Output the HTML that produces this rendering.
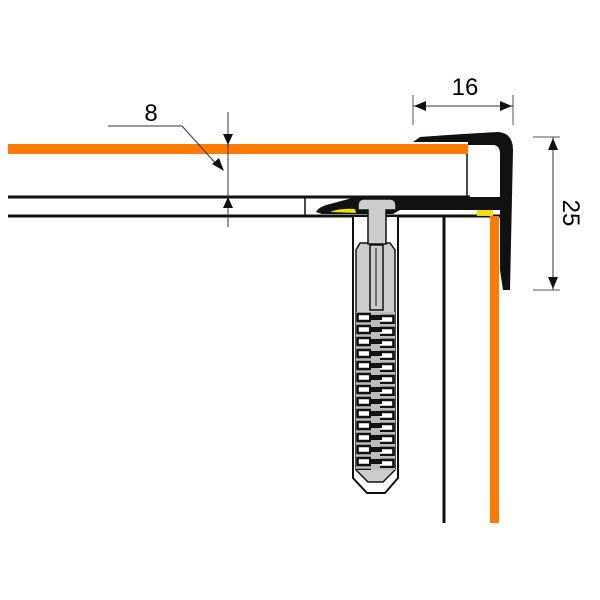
<!DOCTYPE html>
<html><head><meta charset="utf-8"><style>
html,body{margin:0;padding:0;background:#fff;}
svg{display:block;}
text{font-family:"Liberation Sans",Arial,sans-serif;}
</style></head><body>
<svg width="600" height="600" viewBox="0 0 600 600" xmlns="http://www.w3.org/2000/svg">
<defs>
<pattern id="rib" x="356" y="312" width="39" height="12" patternUnits="userSpaceOnUse">
<rect x="0" y="0" width="39" height="12" fill="#bbb"/>
<path d="M15 2 H1.5 V9 H15" fill="#fff" stroke="#111" stroke-width="2.6"/>
<path d="M24 4 H37.5 V11 H24" fill="#fff" stroke="#111" stroke-width="2.6"/>
<rect x="13" y="3" width="13" height="5" fill="#111"/>
<rect x="4" y="4.5" width="8" height="2" fill="#fff"/>
<rect x="27" y="6.5" width="8" height="2" fill="#fff"/>
</pattern>
</defs>

<!-- left sublayer -->
<rect x="8" y="196" width="300" height="20" fill="#fff"/>
<line x1="8" y1="197" x2="470" y2="197" stroke="#111" stroke-width="3"/>
<line x1="8" y1="216" x2="500" y2="216" stroke="#111" stroke-width="3"/>
<line x1="305" y1="197" x2="305" y2="216" stroke="#111" stroke-width="1.5"/>

<!-- board right edge -->
<line x1="467" y1="146" x2="467" y2="197" stroke="#111" stroke-width="1.5"/>
<rect x="8" y="144" width="460" height="10" fill="#ff7a00"/>

<!-- profile top and side -->
<path d="M413 142 L420 137 Q460 134 498 132 Q513 133 513 150 L510 290 L503 290 L500 270 L500 154 Q500 146 494 145 L468 145 L468 142 Z" fill="#111"/>
<!-- horizontal bar -->
<path d="M316 212 Q318 207 330 204 L356 197 L503 197 L503 210 L400 210 L393 214 L322 214 Z" fill="#111"/>
<path d="M330 212 Q340 208 355 209 L356 213 Z" fill="#f0e000"/>
<rect x="477" y="210" width="16" height="6" fill="#f0e000"/>

<!-- verticals -->
<rect x="490" y="216" width="9" height="307" fill="#ff7a00"/>
<line x1="444" y1="216" x2="444" y2="523" stroke="#111" stroke-width="3"/>

<!-- dowel -->
<path d="M353 217 L353 478 L367 493 L385 493 L398 478 L398 217" fill="#fff" stroke="#111" stroke-width="2"/>
<path d="M360 243 L390 243 L395 250 L395 470 L383 482 L368 482 L356 470 L356 250 Z" fill="#ccc" stroke="#111" stroke-width="1.5"/>
<rect x="356" y="312" width="39" height="158" fill="url(#rib)"/>
<rect x="370" y="245" width="13" height="65" fill="#ccc" stroke="#111" stroke-width="1.5"/>
<line x1="376" y1="248" x2="376" y2="306" stroke="#111" stroke-width="1"/>
<!-- T head -->
<path d="M363 199 L391 199 Q396 200 396 205 L396 210 L386 210 L386 244 L368 244 L368 210 L358 210 L358 205 Q358 200 363 199 Z" fill="#ccc" stroke="#111" stroke-width="1.5"/>

<!-- dimension 8 -->
<line x1="228" y1="112" x2="228" y2="227" stroke="#333" stroke-width="1"/>
<path d="M223 134 L233 134 L228 145 Z" fill="#111"/>
<path d="M223 208 L233 208 L228 197 Z" fill="#111"/>
<polyline points="108,126 182,126 218,166" fill="none" stroke="#333" stroke-width="1"/>
<path d="M212 164 L219 158 L224 171 Z" fill="#111"/>
<text x="151" y="121" font-size="24" text-anchor="middle">8</text>

<!-- dimension 16 -->
<line x1="413" y1="95" x2="413" y2="125" stroke="#555" stroke-width="1"/>
<line x1="513" y1="95" x2="513" y2="125" stroke="#555" stroke-width="1"/>
<line x1="413" y1="106" x2="513" y2="106" stroke="#333" stroke-width="1"/>
<path d="M414 106 L426 101 L426 111 Z" fill="#111"/>
<path d="M512 106 L500 101 L500 111 Z" fill="#111"/>
<text x="465" y="95" font-size="24" text-anchor="middle">16</text>

<!-- dimension 25 -->
<line x1="533" y1="137" x2="560" y2="137" stroke="#555" stroke-width="1"/>
<line x1="533" y1="290" x2="560" y2="290" stroke="#555" stroke-width="1"/>
<line x1="553" y1="137" x2="553" y2="290" stroke="#333" stroke-width="1"/>
<path d="M553 138 L548 150 L558 150 Z" fill="#111"/>
<path d="M553 289 L548 277 L558 277 Z" fill="#111"/>
<text x="0" y="0" font-size="24" text-anchor="middle" transform="translate(563 213) rotate(90)">25</text>
</svg>
</body></html>
